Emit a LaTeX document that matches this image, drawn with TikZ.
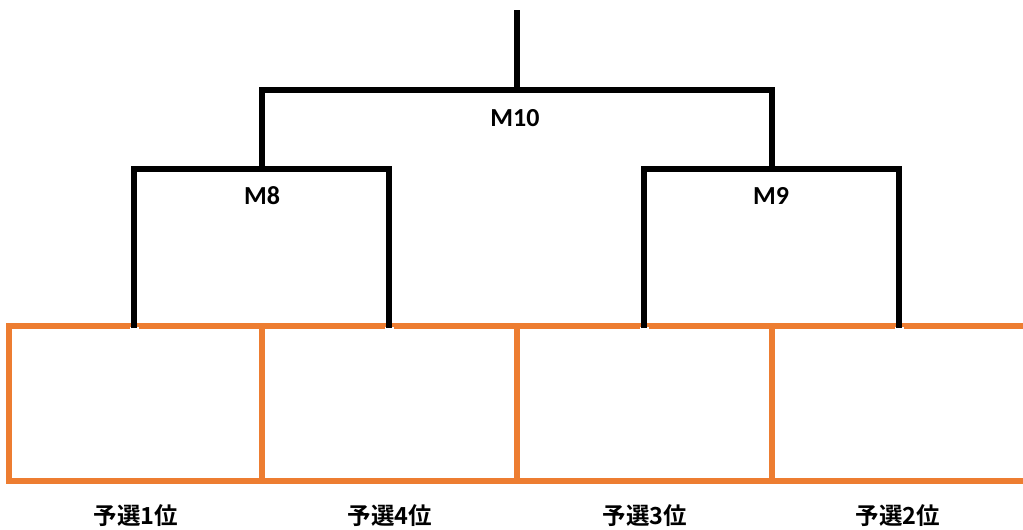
\documentclass[tikz,border=0pt]{standalone}
\usepackage{fontspec}
\setmainfont{Carlito}
\newfontfamily\jp{Noto Sans CJK JP}[BoldFont={Noto Sans CJK JP Bold}]
\definecolor{gridorange}{HTML}{ED7D31}
\begin{document}
\begin{tikzpicture}[x=1pt,y=-1pt,
  bracket/.style={line width=5.5pt,draw=black},
  gridline/.style={line width=5.5pt,draw=gridorange},
  gap/.style={line width=9pt,draw=white},
  mlbl/.style={font=\bfseries\fontsize{26}{28}\selectfont,inner sep=0pt},
  jlbl/.style={font=\jp\bfseries\fontsize{23.5}{26}\selectfont,inner sep=0pt}]
\useasboundingbox (0,0) rectangle (1023,530);
% seed slots (bottom ends of the brackets)
\coordinate (s1) at (134,328);
\coordinate (s4) at (389,328);
\coordinate (s3) at (644,328);
\coordinate (s2) at (899,328);
% bracket corners
\coordinate (m8l) at (134,169);
\coordinate (m8r) at (389,169);
\coordinate (m9l) at (644,169);
\coordinate (m9r) at (899,169);
\coordinate (m8) at (262,169);
\coordinate (m9) at (772,169);
\coordinate (m10l) at (262,90);
\coordinate (m10r) at (772,90);
\coordinate (m10) at (517,90);
\coordinate (top) at (517,10);
% orange grid
\draw[gridline] (1023,326) -- (9,326) -- (9,481) -- (1023,481);
\draw[gridline] (262,326) -- (262,481);
\draw[gridline] (517,326) -- (517,481);
\draw[gridline] (772,326) -- (772,481);
% white gaps where brackets meet the grid
\foreach \s in {s1,s4,s3,s2}{\draw[gap] ([yshift=-10pt]\s) -- ([yshift=1.5pt]\s);}
% brackets
\draw[bracket] (s1) -- (m8l) -- (m8r) -- (s4);
\draw[bracket] (s3) -- (m9l) -- (m9r) -- (s2);
\draw[bracket] (m8) -- (m10l) -- (m10r) -- (m9);
\draw[bracket] (m10) -- (top);
% labels
\node[mlbl] (lm10) at (515,118) {M10};
\node[mlbl] (lm8) at (262,196) {M8};
\node[mlbl] (lm9) at (771,196) {M9};
\node[jlbl] (l1) at (136,516) {予選1位};
\node[jlbl] (l4) at (390,516) {予選4位};
\node[jlbl] (l3) at (645,516) {予選3位};
\node[jlbl] (l2) at (898,516) {予選2位};
\end{tikzpicture}
\end{document}
